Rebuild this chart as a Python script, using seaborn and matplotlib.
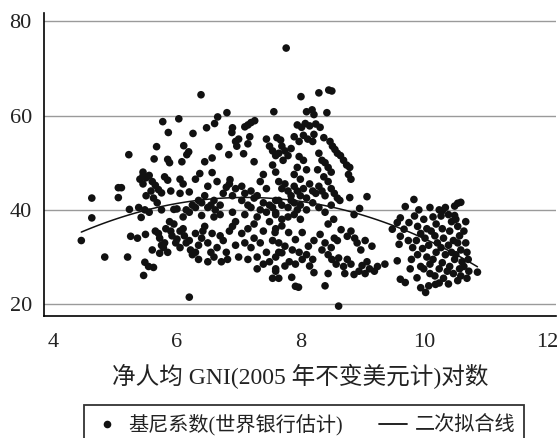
import numpy as np
import pandas as pd
import matplotlib
matplotlib.use("Agg")
import matplotlib.pyplot as plt
from matplotlib.lines import Line2D
import seaborn as sns

# ---- data: log GNI per capita (x) and Gini coefficient (y) ----
x_a = [4.45, 4.62, 4.62, 4.83, 5.05, 5.10, 5.05, 5.20, 5.22, 5.23, 5.38, 5.25, 5.36]
y_a = [33.5, 42.5, 38.3, 30.0, 44.7, 44.7, 42.6, 30.0, 51.7, 40.1, 40.5, 34.4, 34.0]

x_b = [5.40, 5.45, 5.50, 5.55, 5.60, 5.45, 5.65, 5.70, 5.58, 5.50, 5.62, 5.75, 5.68, 5.80, 5.85, 5.90,
       5.67, 5.77, 5.86, 5.85, 5.88, 5.63, 5.45,
       5.48, 5.55, 5.75, 5.95, 6.00, 5.42,
       5.46, 5.48, 5.54, 5.62, 5.49, 5.60, 5.65, 5.70, 5.72, 5.75, 5.78, 5.80, 5.72, 5.85, 5.90, 5.92,
       5.95, 5.98, 5.88, 5.82]
y_b = [46.5, 47.2, 46.8, 47.3, 46.0, 45.5, 45.2, 44.3, 44.0, 43.0, 42.5, 43.6, 41.5, 47.0, 46.3, 44.0,
       53.4, 58.7, 56.4, 50.7, 50.0, 50.8, 48.0,
       40.0, 39.5, 40.0, 40.1, 40.2, 38.4,
       26.1, 28.9, 28.0, 27.8, 34.8, 31.5, 35.5, 35.0, 34.0, 32.5, 32.0, 33.0, 30.8, 31.0, 35.5, 34.5,
       37.0, 33.0, 37.5, 36.0]

x_c = [6.03, 6.11, 6.16, 6.19, 6.26, 6.08, 6.39, 6.48, 6.45, 6.57, 6.37, 6.57, 6.61, 6.66, 6.81, 6.68,
       6.86, 6.84, 6.89, 6.90, 6.95, 7.00, 6.97,
       6.05, 6.10, 6.05, 6.20, 6.25, 6.30, 6.35, 6.40, 6.45, 6.50, 6.55, 6.60, 6.62, 6.70, 6.75, 6.80,
       6.85, 6.90, 6.95, 6.15, 6.20, 6.10, 6.40, 6.60, 6.70, 6.90, 6.95, 6.30, 6.50, 6.65,
       6.05, 6.10, 6.12, 6.15, 6.20, 6.22, 6.25, 6.30, 6.35, 6.40, 6.42, 6.45, 6.50, 6.55, 6.60, 6.65,
       6.70, 6.75, 6.80, 6.82, 6.85, 6.90, 6.95, 6.20, 6.35, 6.50, 6.72, 6.30, 6.57, 6.00, 6.05]
y_c = [59.3, 53.6, 51.7, 52.3, 56.2, 50.2, 64.4, 57.4, 50.2, 51.0, 47.7, 47.9, 58.3, 59.7, 60.6, 53.4,
       46.4, 51.7, 56.4, 57.4, 54.5, 55.0, 53.5,
       46.5, 45.5, 43.5, 43.8, 41.0, 40.5, 42.0, 41.5, 43.0, 40.5, 41.0, 42.0, 40.0, 41.0, 43.5, 44.8,
       45.5, 43.0, 44.5, 40.0, 39.5, 38.5, 38.8, 38.5, 39.0, 39.5, 37.5, 46.5, 45.0, 46.0,
       35.5, 36.0, 34.5, 33.0, 33.5, 31.5, 30.5, 31.0, 32.5, 34.0, 35.5, 36.5, 33.0, 31.0, 30.0, 32.0,
       34.5, 33.5, 31.0, 29.5, 35.5, 36.5, 32.5, 21.5, 29.5, 29.0, 29.0, 35.0, 35.0, 33.8, 32.0]

x_d = [7.08, 7.10, 7.15, 7.20, 7.26, 7.25, 7.18, 7.15, 7.57, 7.45, 7.50, 7.55, 7.60, 7.55, 7.60, 7.40, 7.35,
       7.05, 7.10, 7.15, 7.20, 7.25, 7.30, 7.35, 7.40, 7.45, 7.50, 7.55, 7.60, 7.05, 7.20, 7.45, 7.10,
       7.30, 7.50, 7.60,
       7.05, 7.10, 7.15, 7.20, 7.25, 7.30, 7.35, 7.40, 7.45, 7.50, 7.55, 7.60, 7.15, 7.30, 7.55, 7.60,
       7.40, 7.00, 7.65, 7.25]
y_d = [51.9, 57.6, 58.0, 58.5, 58.9, 50.2, 55.5, 54.0, 60.8, 55.0, 53.5, 52.5, 51.5, 49.5, 48.0, 47.5, 46.0,
       42.0, 43.5, 41.0, 40.5, 42.5, 43.0, 40.0, 41.5, 39.5, 41.0, 40.5, 42.0, 45.0, 44.0, 44.5, 39.0,
       38.5, 37.5, 39.0,
       35.0, 33.0, 36.0, 32.0, 34.0, 30.0, 33.0, 35.5, 31.0, 29.0, 33.5, 36.0, 29.5, 27.5, 25.5, 27.0,
       28.5, 30.0, 31.0, 37.0]

x_e = [7.77, 8.01, 8.30, 8.46, 8.51, 8.43, 8.10, 8.19, 8.22, 7.95, 8.02, 8.08, 8.15, 8.25, 8.32,
       7.90, 7.98, 8.05, 8.12, 8.20, 8.22, 7.70, 7.75, 7.80, 7.72, 7.68, 7.85, 7.62, 7.65,
       8.38, 8.48, 8.52, 8.56, 8.60, 8.65, 8.70, 8.75, 8.80, 8.78, 8.82,
       8.30, 8.35, 8.40, 8.45, 8.50, 8.28, 8.38, 7.98, 8.05, 7.95, 8.10, 7.90, 8.00,
       7.65, 7.70, 7.75, 7.80, 7.85, 7.90, 7.95, 8.00, 8.05, 8.10, 8.15, 8.20, 8.25, 8.30, 8.35, 8.40,
       8.45, 8.50, 8.55, 8.60, 7.65, 7.70, 7.80, 7.85, 7.90, 7.95, 8.00, 8.10, 8.20, 8.30, 8.40, 8.50,
       8.64, 8.80, 9.08, 8.96, 8.87, 7.60, 7.70, 7.80, 7.90, 8.00, 8.54, 8.45]
y_e = [74.3, 64.0, 64.8, 65.4, 65.2, 60.6, 60.8, 61.2, 60.2, 58.0, 57.5, 58.3, 57.8, 58.2, 57.5,
       55.5, 54.5, 55.8, 55.0, 54.5, 56.0, 53.5, 52.5, 51.5, 50.5, 54.8, 53.0, 55.3, 52.0,
       55.3, 54.5, 53.5, 52.8, 52.0, 51.5, 50.5, 49.5, 49.0, 47.5, 46.5,
       52.0, 50.5, 50.0, 49.0, 48.0, 48.5, 47.0, 51.3, 50.5, 49.0, 48.5, 47.5, 46.5,
       46.0, 44.5, 45.5, 44.0, 43.0, 45.0, 44.0, 43.0, 44.5, 42.5, 45.5, 44.0, 43.5, 45.0, 44.0, 43.0,
       46.0, 44.5, 43.5, 42.5, 42.0, 41.0, 40.5, 42.0, 41.5, 40.0, 41.0, 40.0, 41.5, 40.5, 39.5, 41.0,
       42.0, 42.6, 42.8, 40.3, 39.0, 39.4, 38.0, 38.5, 39.0, 38.0, 38.0, 37.0]

x_e2 = [7.59, 7.70, 7.81, 7.92, 8.03, 8.13, 8.22, 7.65, 7.75, 7.87, 7.98, 8.10, 8.20, 7.60, 7.70, 7.82,
        7.92, 8.03, 7.60, 7.75, 8.15, 8.22, 7.65,
        8.32, 8.40, 8.35, 8.45, 8.50, 8.55, 8.60, 8.66, 8.76, 8.82, 8.88, 8.92, 8.98, 9.05, 9.16,
        8.51, 8.58, 8.62, 8.70, 8.76, 8.82, 8.87, 8.95, 9.00, 9.08, 9.12, 9.20, 9.25, 9.37, 9.57, 8.72, 9.05,
        8.40, 8.62, 7.86, 7.92, 7.97, 8.45]
y_e2 = [35.2, 36.6, 35.2, 33.7, 35.2, 32.3, 33.5, 33.0, 32.3, 31.5, 31.0, 30.5, 29.5, 30.0, 30.9, 29.0,
        28.5, 29.5, 27.5, 28.1, 28.1, 26.7, 25.5,
        34.8, 33.0, 31.5, 30.5, 32.0, 34.0, 33.5, 35.8, 34.4, 35.5, 34.0, 33.0, 31.5, 33.5, 32.3,
        29.5, 28.5, 29.8, 28.0, 29.5, 28.5, 26.3, 27.0, 28.2, 29.0, 27.5, 27.0, 28.0, 28.5, 29.2, 26.5, 26.5,
        23.9, 19.6, 25.7, 23.8, 23.6, 26.5]

x_f = [9.84, 9.70, 9.62, 9.49, 9.57, 9.62, 9.60, 9.68, 9.76,
       9.62, 9.70, 9.89, 9.95, 10.03, 10.08, 10.19,
       9.85, 9.90, 9.95, 9.88, 9.82, 9.80, 9.90, 9.98,
       10.00, 10.05, 10.02, 10.08, 10.05, 10.10, 10.00, 10.12,
       10.15, 10.20, 10.18, 10.22, 10.20, 10.15, 10.25, 10.18,
       10.28, 10.30, 10.32, 10.28, 10.35, 10.30, 10.38, 10.32, 10.25,
       10.40, 10.45, 10.42, 10.48, 10.40, 10.45, 10.50, 10.42, 10.48, 10.40,
       10.52, 10.55, 10.58, 10.55, 10.60, 10.52, 10.62, 10.58, 10.55,
       10.50, 10.55, 10.60,
       10.65, 10.68, 10.70, 10.72, 10.65, 10.73, 10.87, 10.68,
       9.92, 10.10, 10.25, 10.35, 10.50, 10.30,
       9.75, 9.78, 9.95, 10.10, 10.60, 10.70]
y_f = [42.2, 40.7, 38.3, 35.9, 37.3, 34.4, 32.7, 35.9, 37.3,
       25.3, 24.6, 25.6, 23.5, 22.5, 23.9, 24.2,
       38.7, 36.5, 35.0, 33.5, 32.0, 29.5, 30.5, 31.8,
       38.0, 36.0, 34.0, 32.5, 30.0, 28.5, 27.5, 35.5,
       38.5, 37.0, 34.5, 33.0, 31.0, 29.5, 27.5, 26.0,
       38.7, 36.0, 34.0, 32.0, 30.5, 28.8, 27.0, 25.5, 24.5,
       39.0, 37.5, 35.5, 33.5, 32.5, 31.0, 29.5, 28.0, 26.5, 24.3,
       38.0, 36.5, 34.5, 33.0, 31.5, 30.5, 29.0, 27.5, 25.0,
       40.8, 41.4, 41.6,
       35.5, 33.0, 31.0, 29.5, 28.0, 27.0, 26.8, 37.5,
       40.0, 40.5, 40.0, 40.5, 38.8, 39.8,
       33.5, 27.5, 28.0, 26.5, 26.0, 25.5]

log_gni = x_a + x_b + x_c + x_d + x_e + x_e2 + x_f
gini = y_a + y_b + y_c + y_d + y_e + y_e2 + y_f
df = pd.DataFrame({"log_gni": log_gni, "gini": gini})

x_ticks = [4, 6, 8, 10, 12]
y_ticks = [20, 40, 60, 80]

# ---- style ----
sns.set_theme(style="white")
plt.rcParams["font.family"] = ["Liberation Serif", "Noto Sans CJK SC"]

fig = plt.figure(figsize=(5.57, 4.38), dpi=100)
ax = fig.add_axes([0.0795, 0.2785, 0.9195, 0.6915])

for yt in y_ticks:
    ax.axhline(yt, color="#9a9a9a", lw=1.0, zorder=0)

sns.scatterplot(data=df, x="log_gni", y="gini", ax=ax, color="#111111",
                s=30, edgecolor="none", linewidth=0, zorder=3, legend=False)
sns.regplot(data=df, x="log_gni", y="gini", ax=ax, order=2, ci=None,
            scatter=False, line_kws={"color": "#111111", "lw": 1.1, "zorder": 4})

ax.set_xlim(3.85, 12.15)
ax.set_ylim(17.5, 81.7)
ax.set_xticks(x_ticks)
ax.set_yticks(y_ticks)
ax.tick_params(axis="both", which="major", labelsize=16, direction="out",
               length=6, width=1, color="black")
ax.tick_params(axis="x", pad=6)
ax.tick_params(axis="y", pad=3)
ax.tick_params(axis="both", labelcolor="#222222")
for sp in ["top", "right"]:
    ax.spines[sp].set_visible(False)
for sp in ["left", "bottom"]:
    ax.spines[sp].set_color("black")
    ax.spines[sp].set_linewidth(1.2)

ax.set_ylabel("")
ax.set_xlabel("净人均 GNI(2005 年不变美元计)对数", fontsize=17, color="#222222",
              labelpad=9)

handles = [
    Line2D([0], [0], marker="o", color="none", markerfacecolor="#111111",
           markeredgecolor="none", markersize=5.5, linestyle="none"),
    Line2D([0], [0], color="#111111", lw=1.3),
]
labels = ["基尼系数(世界银行估计)", "二次拟合线"]
leg = fig.legend(handles, labels, loc="center", bbox_to_anchor=(0.546, 0.03),
                 ncol=2, frameon=True, fancybox=False, edgecolor="black",
                 fontsize=14.5, handlelength=1.4, handletextpad=0.35,
                 columnspacing=1.8, borderpad=0.45, labelcolor="#222222")
leg.get_frame().set_linewidth(1.3)

fig.savefig("out.png", dpi=100, facecolor="white")
